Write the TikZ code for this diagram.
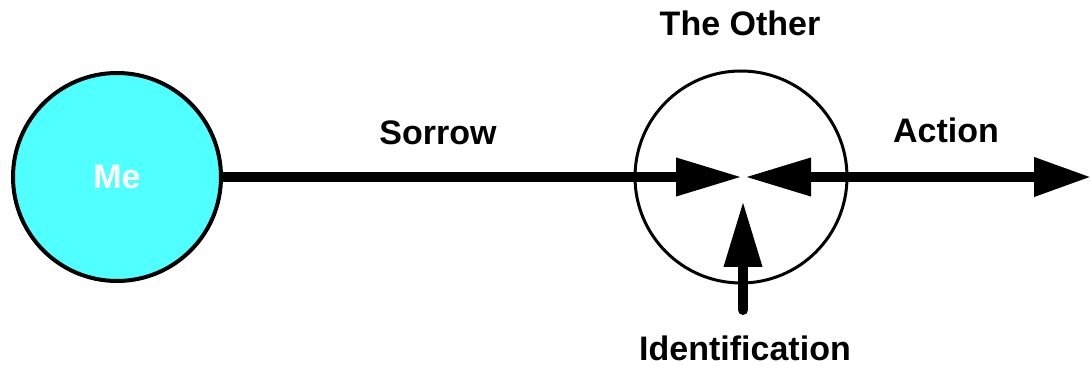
\documentclass[tikz,border=0pt]{standalone}
\usepackage{fontspec}
\setmainfont{Liberation Sans}
\usetikzlibrary{arrows.meta}
\definecolor{mecyan}{RGB}{80,255,255}

\begin{document}
\begin{tikzpicture}[
		x=1pt, y=1pt,
		every node/.style={font=\fontsize{34}{40}\selectfont\bfseries},
		self/.style={circle, draw, line width=4pt, fill=mecyan, text=white, inner sep=0pt, minimum size=208pt},
		other/.style={circle, draw, line width=3pt, inner sep=0pt, minimum size=212pt},
		arrow/.style={-{Triangle[length=66pt, width=36pt]}, line width=10pt},
		twoway/.style={{Triangle[length=66pt, width=36pt]}-{Triangle[length=57pt, width=37pt]}, line width=10pt}
		]
		
		\useasboundingbox (0,0) rectangle (1091,366);
		
		% -------- Circles --------
		\node[self] (me) at (117,189) {Me};
		\node[other] (oth) at (741,189) {};
		
		% -------- Free ends --------
		\coordinate (actend) at (1091,189);
		\coordinate (idfoot) at (743,56);
		
		% ---- Connections ----
		\draw[arrow, shorten >=-1pt] (me) -- (oth.center);
		\draw[twoway, shorten <=4pt] (oth.center) -- (actend);
		\draw[arrow, line cap=round] (idfoot) -- ([xshift=2pt, yshift=-24pt]oth.center);
		
		% Labels
		\node at (740,343) {The Other};
		\node at (438,233) {Sorrow};
		\node at (946,236) {Action};
		\node at (745,18) {Identification};
		
	\end{tikzpicture}
\end{document}
